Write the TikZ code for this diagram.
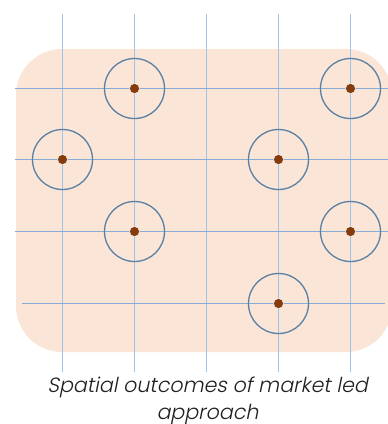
\documentclass[tikz,border=0pt]{standalone}
\usepackage{fontspec}
\setmainfont{Poppins Light}[ItalicFont=Poppins Light,ItalicFeatures={FakeSlant=0.2}]
\definecolor{bgpeach}{HTML}{FBE5D6}
\definecolor{gridblue}{HTML}{9DC3E6}
\definecolor{hgridblue}{HTML}{86ABD6}
\definecolor{ringblue}{HTML}{5B80A5}
\definecolor{dotbrown}{HTML}{843C0C}
\definecolor{captiongray}{HTML}{202020}
\tikzset{
  gridline/.style={draw=gridblue, line width=1pt},
  hgridline/.style={draw=hgridblue, line width=1.4pt},
  ring/.style={circle, draw=ringblue, line width=1.3pt, minimum size=60pt, inner sep=0pt},
  dot/.style={circle, fill=dotbrown, draw=white, line width=0.4pt, minimum size=10pt, inner sep=0pt},
}
\begin{document}
\begin{tikzpicture}[x=1pt,y=-1pt]
\useasboundingbox (0,0) rectangle (388,424);
\fill[bgpeach, rounded corners=46pt] (16,49) rectangle (392,352);
% grid coordinates
\foreach \n/\x in {a/62.5,b/134.5,c/206.5,d/278.5,e/350.5}{
  \coordinate (\n top) at (\x,14);
  \coordinate (\n bot) at (\x,372);
}
\coordinate (r1l) at (15,88.5);  \coordinate (r1r) at (388,88.5);
\coordinate (r2l) at (15,159.5); \coordinate (r2r) at (388,159.5);
\coordinate (r3l) at (15,231.5); \coordinate (r3r) at (388,231.5);
\coordinate (r4l) at (22,303.5); \coordinate (r4r) at (385,303.5);
\foreach \n in {a,b,c,d,e}{ \draw[gridline] (\n top) -- (\n bot); }
\foreach \r in {r1,r2,r3,r4}{ \draw[hgridline] (\r l) -- (\r r); }
% rings and dots
\foreach \n/\x/\y in {c1/134.5/88.5, c2/350.5/88.5, c3/62.5/159.5, c4/278.5/159.5, c5/134.5/231.5, c6/350.5/231.5, c7/278.5/303.5}{
  \node[ring] (\n ring) at (\x,\y) {};
  \node[dot] (\n dot) at (\x,\y) {};
}
\node[font=\itshape\fontsize{20.6pt}{27pt}\selectfont, align=center, text=captiongray, inner sep=0pt, anchor=base] (caption) at (207.5,419)
  {Spatial outcomes of market led\\approach};
\end{tikzpicture}
\end{document}
